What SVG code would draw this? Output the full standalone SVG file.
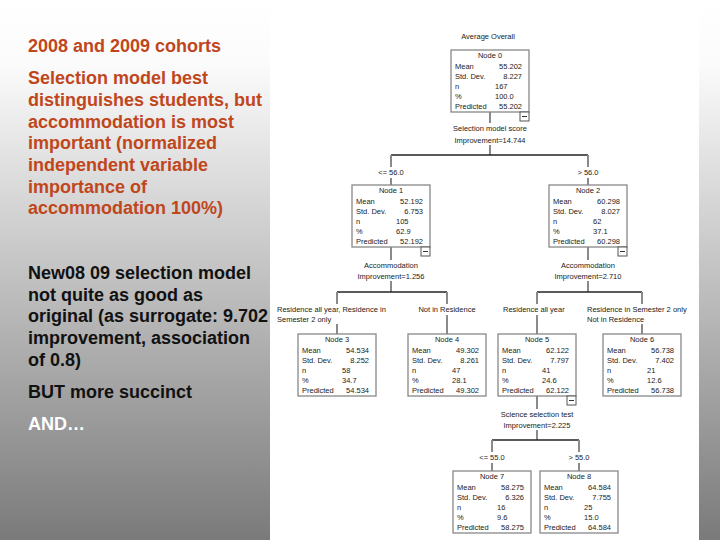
<svg xmlns="http://www.w3.org/2000/svg" width="720" height="540" viewBox="0 0 720 540">
<defs>
<linearGradient id="bg" x1="0" y1="0" x2="0" y2="1">
<stop offset="0" stop-color="#ffffff"/>
<stop offset="0.12" stop-color="#fbfbfb"/>
<stop offset="1" stop-color="#7a7a7a"/>
</linearGradient>
<style>
.h{font-family:"Liberation Sans",Arial,sans-serif;font-size:18px;font-weight:bold}
.o{fill:#c0461c}
.k{fill:#111}
.w{fill:#ffffff}
.t{font-family:"Liberation Sans",Arial,sans-serif;font-size:7.5px;fill:#222}
.c{text-anchor:middle}
.r{text-anchor:end}
.box{fill:#ffffff;stroke:#888;stroke-width:1.3}
.mb{fill:#ffffff;stroke:#555;stroke-width:1}
.stem{stroke:#8a8a8a;stroke-width:2;fill:none}
.bar{stroke:#222;stroke-width:1.3;fill:none}
</style>
</defs>
<rect x="0" y="0" width="720" height="540" fill="url(#bg)"/>
<rect x="270" y="0" width="429" height="540" fill="#ffffff"/>

<g id="left-text">
<text class="h o" x="28" y="52">2008 and 2009 cohorts</text>
<text class="h o" x="28" y="84">Selection model best</text>
<text class="h o" x="28" y="106">distinguishes students, but</text>
<text class="h o" x="28" y="128">accommodation is most</text>
<text class="h o" x="28" y="149">important (normalized</text>
<text class="h o" x="28" y="171">independent variable</text>
<text class="h o" x="28" y="193">importance of</text>
<text class="h o" x="28" y="214">accommodation 100%)</text>
<text class="h k" x="28" y="279">New08 09 selection model</text>
<text class="h k" x="28" y="301">not quite as good as</text>
<text class="h k" x="28" y="322">original (as surrogate: 9.702</text>
<text class="h k" x="28" y="344">improvement, association</text>
<text class="h k" x="28" y="366">of 0.8)</text>
<text class="h k" x="28" y="398">BUT more succinct</text>
<text class="h w" x="28" y="430">AND…</text>
</g>

<text class="t c" x="488" y="39">Average Overall</text>

<g id="connectors">
<line class="stem" x1="490" y1="112" x2="490" y2="123"/>
<line class="stem" x1="490" y1="145" x2="490" y2="155"/>
<line class="bar" x1="391" y1="155" x2="588" y2="155"/>
<line class="stem" x1="391" y1="155" x2="391" y2="167"/>
<line class="stem" x1="391" y1="178" x2="391" y2="185"/>
<line class="stem" x1="588" y1="155" x2="588" y2="167"/>
<line class="stem" x1="588" y1="178" x2="588" y2="185"/>

<line class="stem" x1="391" y1="247" x2="391" y2="260"/>
<line class="stem" x1="391" y1="281" x2="391" y2="292"/>
<line class="bar" x1="337" y1="292" x2="447" y2="292"/>
<line class="stem" x1="337" y1="292" x2="337" y2="304"/>
<line class="stem" x1="337" y1="324" x2="337" y2="334"/>
<line class="stem" x1="447" y1="292" x2="447" y2="304"/>
<line class="stem" x1="447" y1="315" x2="447" y2="334"/>

<line class="stem" x1="588" y1="247" x2="588" y2="260"/>
<line class="stem" x1="588" y1="281" x2="588" y2="292"/>
<line class="bar" x1="537" y1="292" x2="642" y2="292"/>
<line class="stem" x1="537" y1="292" x2="537" y2="304"/>
<line class="stem" x1="537" y1="315" x2="537" y2="334"/>
<line class="stem" x1="642" y1="292" x2="642" y2="304"/>
<line class="stem" x1="642" y1="324" x2="642" y2="334"/>

<line class="stem" x1="537" y1="396" x2="537" y2="409"/>
<line class="stem" x1="537" y1="430" x2="537" y2="440"/>
<line class="bar" x1="492" y1="440" x2="579" y2="440"/>
<line class="stem" x1="492" y1="440" x2="492" y2="452"/>
<line class="stem" x1="492" y1="463" x2="492" y2="471"/>
<line class="stem" x1="579" y1="440" x2="579" y2="452"/>
<line class="stem" x1="579" y1="463" x2="579" y2="471"/>

<text class="t c" x="490" y="131">Selection model score</text>
<text class="t c" x="490" y="143">Improvement=14.744</text>
<text class="t c" x="391" y="175">&lt;= 56.0</text>
<text class="t c" x="588" y="175">&gt; 56.0</text>
<text class="t c" x="391" y="268">Accommodation</text>
<text class="t c" x="391" y="279">Improvement=1.256</text>
<text class="t c" x="588" y="268">Accommodation</text>
<text class="t c" x="588" y="279">Improvement=2.710</text>
<text class="t" x="277" y="312">Residence all year, Residence in</text>
<text class="t" x="277" y="322">Semester 2 only</text>
<text class="t c" x="447" y="312">Not in Residence</text>
<text class="t" x="503" y="312">Residence all year</text>
<text class="t" x="587" y="312">Residence in Semester 2 only</text>
<text class="t" x="587" y="322">Not in Residence</text>
<text class="t c" x="537" y="417">Science selection test</text>
<text class="t c" x="537" y="428">Improvement=2.225</text>
<text class="t c" x="492" y="460">&lt;= 55.0</text>
<text class="t c" x="579" y="460">&gt; 55.0</text>
</g>

<g id="node0">
<rect class="box" x="451" y="50" width="78" height="62"/>
<text class="t c" x="490" y="58">Node 0</text>
<text class="t" x="455" y="69">Mean</text><text class="t r" x="522" y="69">55.202</text>
<text class="t" x="455" y="79">Std. Dev.</text><text class="t r" x="522" y="79">8.227</text>
<text class="t" x="455" y="89">n</text><text class="t" x="495" y="89">167</text>
<text class="t" x="455" y="99">%</text><text class="t" x="495" y="99">100.0</text>
<text class="t" x="455" y="109">Predicted</text><text class="t r" x="522" y="109">55.202</text>
<rect class="mb" x="520" y="112" width="9" height="9"/><line x1="522" y1="116.5" x2="527" y2="116.5" stroke="#333"/>
</g>

<g id="node1">
<rect class="box" x="352" y="185" width="78" height="62"/>
<text class="t c" x="391" y="193">Node 1</text>
<text class="t" x="356" y="204">Mean</text><text class="t r" x="423" y="204">52.192</text>
<text class="t" x="356" y="214">Std. Dev.</text><text class="t r" x="423" y="214">6.753</text>
<text class="t" x="356" y="224">n</text><text class="t" x="396" y="224">105</text>
<text class="t" x="356" y="234">%</text><text class="t" x="396" y="234">62.9</text>
<text class="t" x="356" y="244">Predicted</text><text class="t r" x="423" y="244">52.192</text>
<rect class="mb" x="421" y="247" width="9" height="9"/><line x1="423" y1="251.5" x2="428" y2="251.5" stroke="#333"/>
</g>

<g id="node2">
<rect class="box" x="549" y="185" width="78" height="62"/>
<text class="t c" x="588" y="193">Node 2</text>
<text class="t" x="553" y="204">Mean</text><text class="t r" x="620" y="204">60.298</text>
<text class="t" x="553" y="214">Std. Dev.</text><text class="t r" x="620" y="214">8.027</text>
<text class="t" x="553" y="224">n</text><text class="t" x="593" y="224">62</text>
<text class="t" x="553" y="234">%</text><text class="t" x="593" y="234">37.1</text>
<text class="t" x="553" y="244">Predicted</text><text class="t r" x="620" y="244">60.298</text>
<rect class="mb" x="618" y="247" width="9" height="9"/><line x1="620" y1="251.5" x2="625" y2="251.5" stroke="#333"/>
</g>

<g id="node3">
<rect class="box" x="298" y="334" width="78" height="62"/>
<text class="t c" x="337" y="342">Node 3</text>
<text class="t" x="302" y="353">Mean</text><text class="t r" x="369" y="353">54.534</text>
<text class="t" x="302" y="363">Std. Dev.</text><text class="t r" x="369" y="363">8.252</text>
<text class="t" x="302" y="373">n</text><text class="t" x="342" y="373">58</text>
<text class="t" x="302" y="383">%</text><text class="t" x="342" y="383">34.7</text>
<text class="t" x="302" y="393">Predicted</text><text class="t r" x="369" y="393">54.534</text>
</g>

<g id="node4">
<rect class="box" x="408" y="334" width="78" height="62"/>
<text class="t c" x="447" y="342">Node 4</text>
<text class="t" x="412" y="353">Mean</text><text class="t r" x="479" y="353">49.302</text>
<text class="t" x="412" y="363">Std. Dev.</text><text class="t r" x="479" y="363">8.261</text>
<text class="t" x="412" y="373">n</text><text class="t" x="452" y="373">47</text>
<text class="t" x="412" y="383">%</text><text class="t" x="452" y="383">28.1</text>
<text class="t" x="412" y="393">Predicted</text><text class="t r" x="479" y="393">49.302</text>
</g>

<g id="node5">
<rect class="box" x="498" y="334" width="78" height="62"/>
<text class="t c" x="537" y="342">Node 5</text>
<text class="t" x="502" y="353">Mean</text><text class="t r" x="569" y="353">62.122</text>
<text class="t" x="502" y="363">Std. Dev.</text><text class="t r" x="569" y="363">7.797</text>
<text class="t" x="502" y="373">n</text><text class="t" x="542" y="373">41</text>
<text class="t" x="502" y="383">%</text><text class="t" x="542" y="383">24.6</text>
<text class="t" x="502" y="393">Predicted</text><text class="t r" x="569" y="393">62.122</text>
<rect class="mb" x="567" y="396" width="9" height="9"/><line x1="569" y1="400.5" x2="574" y2="400.5" stroke="#333"/>
</g>

<g id="node6">
<rect class="box" x="603" y="334" width="78" height="62"/>
<text class="t c" x="642" y="342">Node 6</text>
<text class="t" x="607" y="353">Mean</text><text class="t r" x="674" y="353">56.738</text>
<text class="t" x="607" y="363">Std. Dev.</text><text class="t r" x="674" y="363">7.402</text>
<text class="t" x="607" y="373">n</text><text class="t" x="647" y="373">21</text>
<text class="t" x="607" y="383">%</text><text class="t" x="647" y="383">12.6</text>
<text class="t" x="607" y="393">Predicted</text><text class="t r" x="674" y="393">56.738</text>
</g>

<g id="node7">
<rect class="box" x="453" y="471" width="78" height="62"/>
<text class="t c" x="492" y="479">Node 7</text>
<text class="t" x="457" y="490">Mean</text><text class="t r" x="524" y="490">58.275</text>
<text class="t" x="457" y="500">Std. Dev.</text><text class="t r" x="524" y="500">6.326</text>
<text class="t" x="457" y="510">n</text><text class="t" x="497" y="510">16</text>
<text class="t" x="457" y="520">%</text><text class="t" x="497" y="520">9.6</text>
<text class="t" x="457" y="530">Predicted</text><text class="t r" x="524" y="530">58.275</text>
</g>

<g id="node8">
<rect class="box" x="540" y="471" width="78" height="62"/>
<text class="t c" x="579" y="479">Node 8</text>
<text class="t" x="544" y="490">Mean</text><text class="t r" x="611" y="490">64.584</text>
<text class="t" x="544" y="500">Std. Dev.</text><text class="t r" x="611" y="500">7.755</text>
<text class="t" x="544" y="510">n</text><text class="t" x="584" y="510">25</text>
<text class="t" x="544" y="520">%</text><text class="t" x="584" y="520">15.0</text>
<text class="t" x="544" y="530">Predicted</text><text class="t r" x="611" y="530">64.584</text>
</g>
</svg>
